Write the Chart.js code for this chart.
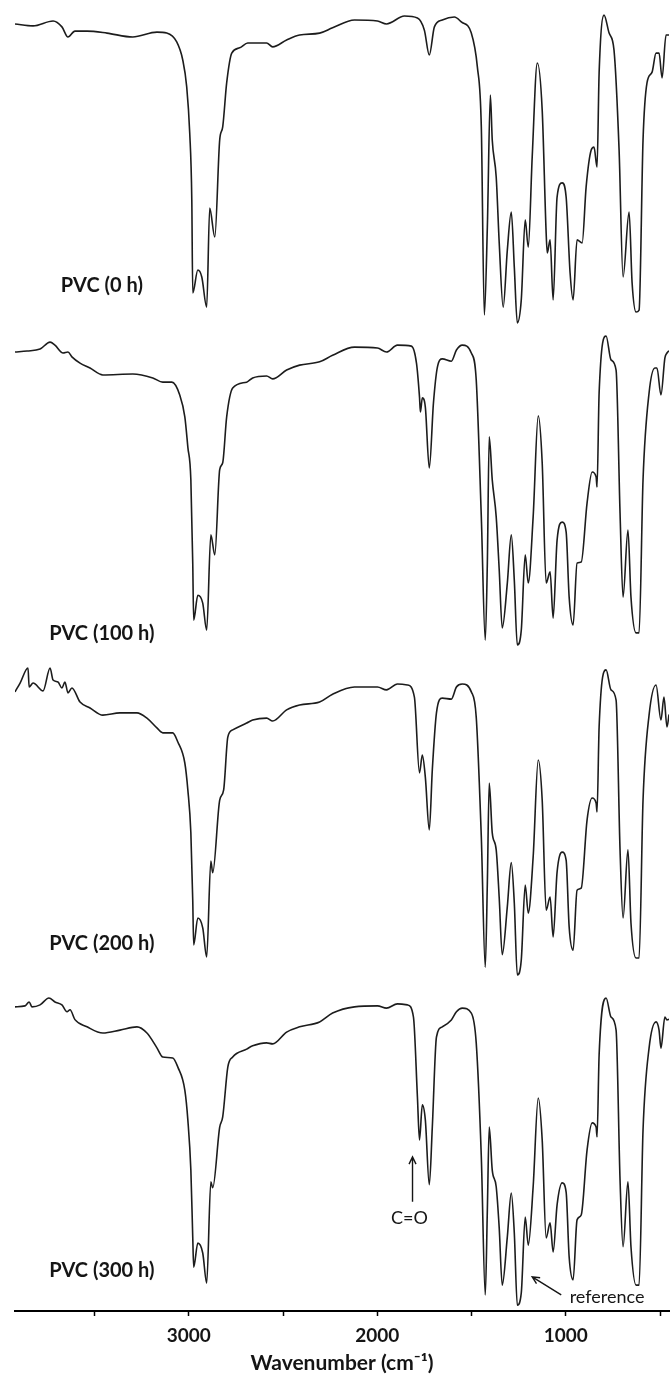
<!DOCTYPE html>
<html>
<head>
<meta charset="utf-8">
<script src="https://cdn.jsdelivr.net/npm/chart.js@4.4.0/dist/chart.umd.min.js"></script>
<style>
  html, body { margin: 0; padding: 0; background: #fff; }
  #wrap { width: 670px; height: 1376px; }
</style>
</head>
<body>
<div id="wrap"><canvas id="ftir"></canvas></div>
<script>
// FTIR spectra of PVC film after UV exposure, stacked top to bottom
const samples = ['PVC (0 h)', 'PVC (100 h)', 'PVC (200 h)', 'PVC (300 h)'];

// wavenumber (cm-1) / transmittance (%) pairs, one pair of arrays per sample
const wn0h = [3922, 3826, 3720, 3673, 3641, 3604, 3540, 3434, 3297, 3169, 3117, 3064, 3032, 3011, 2995, 2984, 2979, 2952, 2931, 2905,
  2889, 2862, 2836, 2820, 2799, 2772, 2730, 2687, 2640, 2587, 2555, 2481, 2412, 2306, 2237, 2121, 1999, 1951, 1856, 1787,
  1750, 1724, 1697, 1655, 1591, 1554, 1501, 1469, 1448, 1432, 1416, 1400, 1390, 1369, 1353, 1332, 1310, 1289, 1273, 1257,
  1236, 1215, 1199, 1178, 1151, 1125, 1104, 1098, 1083, 1067, 1046, 1019, 998, 977, 961, 940, 913, 892, 865, 850,
  834, 823, 797, 770, 744, 717, 696, 664, 648, 627, 611, 590, 569, 542, 521, 505, 489, 468, 452];
const t0h = [92.7, 92.1, 93.6, 91.8, 88.7, 90.5, 90.5, 89.9, 88.7, 90.2, 89.9, 87.2, 81.7, 73.5, 59.4, 39.0, 10.6, 17.6, 15.5, 6.3,
  36.5, 27.7, 57.3, 61.3, 74.7, 83.8, 85.4, 86.9, 86.9, 86.9, 85.7, 87.8, 89.3, 89.9, 91.5, 93.9, 93.6, 92.7, 95.1, 94.5,
  90.8, 83.2, 91.8, 93.9, 94.8, 93.3, 89.9, 79.6, 61.3, 3.9, 30.7, 71.0, 57.3, 46.0, 25.9, 6.3, 23.7, 35.3, 18.5, 1.5,
  8.5, 32.9, 24.6, 52.1, 80.8, 66.4, 28.9, 22.8, 26.8, 8.5, 39.9, 44.2, 39.9, 16.7, 8.5, 26.8, 25.9, 42.9, 54.2, 55.1,
  49.0, 77.7, 95.4, 89.9, 84.7, 54.2, 15.5, 35.3, 13.7, 4.8, 5.4, 57.3, 74.7, 78.0, 83.8, 83.8, 76.2, 89.3, 89.3];

const wn100h = [3922, 3858, 3789, 3736, 3710, 3667, 3641, 3620, 3577, 3524, 3456, 3297, 3191, 3138, 3090, 3048, 3021, 3005, 2989, 2979,
  2974, 2952, 2926, 2905, 2883, 2862, 2836, 2820, 2799, 2767, 2693, 2661, 2587, 2555, 2481, 2412, 2306, 2237, 2121, 1999,
  1951, 1893, 1819, 1792, 1776, 1771, 1761, 1745, 1724, 1702, 1681, 1655, 1607, 1580, 1549, 1501, 1475, 1448, 1427, 1416,
  1406, 1390, 1369, 1353, 1337, 1310, 1289, 1273, 1257, 1236, 1215, 1199, 1173, 1146, 1125, 1104, 1083, 1067, 1046, 1019,
  998, 982, 961, 940, 918, 887, 860, 839, 834, 823, 786, 760, 733, 712, 696, 670, 654, 627, 611, 590,
  558, 527, 516, 495, 474, 463, 452];
const t100h = [92.6, 92.9, 93.5, 95.6, 94.7, 92.3, 92.6, 91.1, 89.2, 87.7, 85.6, 85.9, 84.7, 83.4, 83.4, 79.5, 72.8, 63.6, 53.6, 28.2,
  10.8, 18.4, 16.0, 7.7, 36.8, 30.7, 56.7, 58.8, 72.8, 81.6, 83.4, 84.7, 85.3, 84.4, 87.1, 88.6, 89.6, 91.6, 94.1, 93.8,
  92.6, 94.7, 94.4, 89.2, 78.9, 74.3, 78.6, 75.8, 57.2, 77.0, 88.0, 90.5, 89.8, 93.2, 94.7, 92.3, 84.1, 42.3, 4.7, 28.2,
  66.7, 53.6, 42.3, 26.1, 8.4, 22.1, 36.8, 23.0, 3.2, 7.7, 30.7, 22.1, 42.3, 73.1, 58.8, 22.1, 25.5, 11.4, 35.2, 40.7,
  37.7, 17.8, 9.3, 28.2, 28.5, 46.5, 56.0, 54.5, 51.4, 80.1, 97.5, 90.2, 87.1, 43.5, 17.8, 38.3, 17.8, 6.9, 6.9, 53.6,
  80.1, 87.7, 87.7, 79.5, 90.8, 92.3, 93.0];

const wn200h = [3922, 3895, 3853, 3847, 3826, 3773, 3736, 3720, 3694, 3673, 3657, 3641, 3620, 3577, 3524, 3456, 3365, 3275, 3222, 3169,
  3138, 3085, 3058, 3021, 3005, 2989, 2979, 2974, 2952, 2926, 2905, 2883, 2873, 2836, 2815, 2793, 2767, 2693, 2661, 2587,
  2555, 2481, 2412, 2306, 2237, 2121, 1999, 1951, 1893, 1840, 1803, 1776, 1761, 1745, 1724, 1708, 1686, 1655, 1607, 1580,
  1549, 1501, 1475, 1448, 1427, 1416, 1406, 1390, 1369, 1353, 1337, 1310, 1289, 1273, 1257, 1236, 1215, 1199, 1173, 1146,
  1125, 1104, 1083, 1067, 1046, 1019, 998, 982, 961, 940, 918, 887, 860, 839, 834, 823, 786, 760, 733, 712,
  696, 670, 654, 627, 611, 590, 558, 521, 495, 479, 463, 452];
const t200h = [88.9, 91.6, 96.2, 90.4, 91.6, 89.2, 96.2, 92.5, 91.9, 90.1, 91.9, 88.6, 90.1, 85.8, 84.0, 81.8, 82.5, 82.5, 80.9, 77.9,
  76.4, 76.4, 73.6, 67.2, 59.0, 45.9, 25.4, 11.7, 19.9, 16.9, 8.0, 37.3, 33.7, 55.9, 59.0, 75.1, 77.3, 79.4, 80.3, 80.9,
  80.0, 83.4, 84.9, 85.8, 88.2, 90.4, 90.4, 89.5, 91.3, 91.0, 87.3, 64.2, 69.6, 62.9, 46.8, 65.1, 82.5, 87.0, 86.7, 90.4,
  91.3, 88.9, 81.2, 44.6, 4.9, 30.6, 61.1, 45.9, 40.7, 26.0, 8.7, 23.4, 36.8, 24.5, 2.5, 7.1, 30.0, 21.4, 38.5, 68.1,
  55.9, 22.3, 26.3, 14.1, 33.9, 40.0, 37.6, 17.2, 10.1, 28.4, 29.0, 49.8, 56.5, 55.0, 52.3, 78.2, 95.6, 89.5, 86.4, 40.7,
  19.9, 40.7, 18.4, 7.7, 7.7, 55.9, 81.8, 91.0, 80.3, 87.3, 78.2, 82.0];

const wn300h = [3922, 3869, 3847, 3832, 3789, 3742, 3710, 3673, 3646, 3630, 3604, 3540, 3456, 3365, 3275, 3222, 3169, 3138, 3085, 3058,
  3021, 3005, 2989, 2979, 2974, 2952, 2926, 2905, 2883, 2873, 2836, 2820, 2793, 2767, 2693, 2661, 2587, 2555, 2481, 2412,
  2306, 2237, 2121, 1999, 1951, 1893, 1840, 1808, 1787, 1776, 1761, 1745, 1724, 1708, 1686, 1655, 1607, 1580, 1549, 1501,
  1475, 1448, 1427, 1416, 1406, 1390, 1369, 1353, 1337, 1310, 1289, 1273, 1257, 1236, 1215, 1199, 1173, 1146, 1125, 1104,
  1083, 1067, 1046, 1019, 998, 982, 961, 940, 918, 887, 860, 839, 834, 823, 786, 760, 733, 712, 696, 670,
  654, 627, 611, 590, 558, 521, 505, 495, 474, 463, 452];
const t300h = [92.8, 93.1, 94.3, 92.8, 93.4, 95.5, 94.3, 93.4, 91.3, 91.9, 88.9, 86.7, 84.8, 85.7, 86.7, 84.8, 80.3, 77.5, 77.2, 74.4,
  67.4, 58.3, 43.0, 22.6, 13.4, 20.7, 17.7, 8.5, 39.4, 37.6, 56.1, 59.2, 74.4, 77.5, 79.9, 80.9, 81.8, 81.5, 85.1, 86.7,
  88.2, 90.9, 92.8, 93.1, 92.4, 93.7, 93.4, 89.7, 65.3, 52.2, 62.9, 58.3, 38.5, 56.1, 83.6, 86.7, 88.8, 91.3, 92.4, 90.9,
  81.8, 47.0, 4.9, 30.8, 56.1, 43.0, 37.9, 25.3, 7.9, 22.6, 36.0, 23.8, 1.8, 5.5, 28.7, 20.1, 37.9, 65.0, 52.2, 22.3,
  26.9, 18.0, 32.4, 39.1, 36.3, 16.5, 9.5, 27.8, 29.3, 49.1, 57.4, 56.1, 53.1, 78.1, 95.5, 89.7, 85.7, 40.0, 19.6, 39.4,
  19.6, 7.9, 7.9, 55.2, 80.2, 88.2, 85.7, 80.2, 89.7, 88.8, 89.0];

const wavenumbers = [wn0h, wn100h, wn200h, wn300h];
const transmittance = [t0h, t100h, t200h, t300h];

// x axis ticks (every 500, labelled every 1000)
const tickValues = [3500, 3000, 2500, 2000, 1500, 1000, 500];

// each spectrum sits in its own 100-unit band, first sample on top
const bandHeight = 100;
const offsets = samples.map((s, i) => (samples.length - 1 - i) * bandHeight);

// where the sample names sit (wavenumber, transmittance within band)
const nameWn = 3461;
const nameT = [13.0, 6.6, 12.0, 12.2];

const datasets = samples.map((name, i) => ({
  label: name,
  data: wavenumbers[i].map((w, j) => ({ x: w, y: offsets[i] + transmittance[i][j] })),
  borderColor: '#1c1c1c',
  borderWidth: 1.6,
  pointRadius: 0,
  fill: false,
  cubicInterpolationMode: 'monotone'
}));

function arrow(ctx, x1, y1, x2, y2) {
  const a = Math.atan2(y2 - y1, x2 - x1);
  const h = 8;
  ctx.beginPath();
  ctx.moveTo(x1, y1);
  ctx.lineTo(x2, y2);
  ctx.moveTo(x2 - h * Math.cos(a - 0.45), y2 - h * Math.sin(a - 0.45));
  ctx.lineTo(x2, y2);
  ctx.lineTo(x2 - h * Math.cos(a + 0.45), y2 - h * Math.sin(a + 0.45));
  ctx.stroke();
}

const notes = {
  id: 'notes',
  afterDatasetsDraw(chart) {
    const { ctx, scales: { x, y } } = chart;
    ctx.save();
    ctx.fillStyle = '#151515';
    ctx.strokeStyle = '#151515';
    ctx.lineWidth = 1.4;
    ctx.textAlign = 'center';
    ctx.textBaseline = 'middle';

    ctx.font = 'bold 20px Lato';
    samples.forEach((s, i) => {
      ctx.fillText(s, x.getPixelForValue(nameWn), y.getPixelForValue(offsets[i] + nameT[i]));
    });

    // carbonyl band marker on the last spectrum
    ctx.font = '18px Lato';
    ctx.fillText('C=O', x.getPixelForValue(1829), y.getPixelForValue(28.4));
    arrow(ctx, x.getPixelForValue(1813), y.getPixelForValue(33.3), x.getPixelForValue(1813), y.getPixelForValue(47.0));

    ctx.fillText('reference', x.getPixelForValue(781), y.getPixelForValue(4.3));
    arrow(ctx, x.getPixelForValue(1024), y.getPixelForValue(4.9), x.getPixelForValue(1178), y.getPixelForValue(10.4));
    ctx.restore();
  }
};

new Chart(document.getElementById('ftir'), {
  type: 'line',
  data: { datasets },
  options: {
    responsive: true,
    maintainAspectRatio: false,
    animation: false,
    devicePixelRatio: 1,
    layout: { padding: { left: 15, right: 0, top: 0, bottom: 2 } },
    plugins: { legend: { display: false }, tooltip: { enabled: false } },
    scales: {
      x: {
        type: 'linear',
        reverse: true,
        min: 452,
        max: 3922,
        afterBuildTicks: s => { s.ticks = tickValues.map(v => ({ value: v })); },
        // fixed axis band so the plot ends at the same place every time
        afterFit: s => { s.height = 63; },
        ticks: {
          autoSkip: false,
          maxRotation: 0,
          padding: 10,
          color: '#151515',
          font: { family: 'Lato', size: 19, weight: 'bold', lineHeight: 1 },
          callback: v => (v % 1000 === 0 ? String(v) : '')
        },
        grid: { drawOnChartArea: false, tickLength: 5, color: '#000', tickColor: '#000', tickWidth: 1.5 },
        border: { color: '#000', width: 2 },
        title: {
          display: true,
          text: 'Wavenumber (cm\u207B\u00B9)',
          color: '#151515',
          font: { family: 'Lato', size: 21, weight: 'bold', lineHeight: 1 },
          padding: { top: 4, bottom: 0 }
        }
      },
      y: { display: false, min: 0, max: 400 }
    }
  },
  plugins: [notes]
});
</script>
</body>
</html>
